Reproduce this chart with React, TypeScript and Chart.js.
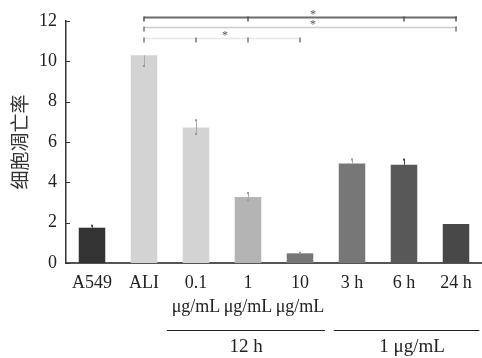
import React, { useEffect, useRef } from "react";
import { Chart, registerables } from "chart.js";

Chart.register(...registerables);

// ---- data ----
const categories: string[][] = [
  ["A549"],
  ["ALI"],
  ["0.1", "μg/mL"],
  ["1", "μg/mL"],
  ["10", "μg/mL"],
  ["3 h"],
  ["6 h"],
  ["24 h"],
];
const values = [1.75, 10.3, 6.72, 3.27, 0.48, 4.93, 4.87, 1.93];
const errHigh = [0.1, 0, 0.36, 0.2, 0.03, 0.2, 0.26, 0];
const errLow = [0, 0.53, 0.33, 0.15, 0, 0, 0, 0];
const barColors = ["#333333", "#d3d3d3", "#d3d3d3", "#b4b4b4", "#777777", "#777777", "#585858", "#484848"];
const yMin = 0;
const yMax = 12;
const yStep = 2;
const yTitle = "细胞凋亡率";
const groupLabels = ["12 h", "1 μg/mL"];
const groupFrom = [2, 5];
const groupTo = [4, 7];

// significance brackets
const sigLevel = [12.18, 11.68, 11.14];
const sigFrom = [1, 1, 1];
const sigTo = [7, 7, 4];
const sigTicks = [[1, 3, 6, 7], [1, 7], [1, 2, 3, 4]];
const sigStarAt = [4.25, 4.25, 2.56];
const sigColor = ["#6a6a6a", "#cccccc", "#e6e6e6"];

const SERIF = "'Liberation Serif', 'Times New Roman', 'Noto Sans CJK SC', serif";

const overlay = {
  id: "overlay",
  afterDraw(chart: any) {
    const { ctx } = chart;
    const x = chart.scales.x;
    const y = chart.scales.y;
    const step = x.getPixelForValue(1) - x.getPixelForValue(0);
    ctx.save();

    // inward y ticks
    ctx.strokeStyle = "#333";
    ctx.lineWidth = 1;
    for (let v = yMin; v <= yMax; v += yStep) {
      const py = Math.round(y.getPixelForValue(v)) + 0.5;
      ctx.beginPath();
      ctx.moveTo(x.left, py);
      ctx.lineTo(x.left + 4, py);
      ctx.stroke();
    }

    // error bars
    values.forEach((v, i) => {
      if (!errHigh[i] && !errLow[i]) return;
      const px = Math.round(x.getPixelForValue(i)) + 0.5;
      const top = y.getPixelForValue(v + errHigh[i]);
      const bot = y.getPixelForValue(v - errLow[i]);
      ctx.strokeStyle = i === 0 || i >= 6 ? "#444" : "#aaaaaa";
      ctx.lineWidth = 1;
      ctx.beginPath();
      ctx.moveTo(px, top);
      ctx.lineTo(px, bot);
      ctx.stroke();
      ctx.fillStyle = i === 0 || i >= 6 ? "#444" : "#999999";
      if (errHigh[i]) ctx.fillRect(px - 1.5, top - 1, 2, 2);
      if (errLow[i]) ctx.fillRect(px - 1.5, bot - 1, 2, 2);
    });

    // significance brackets
    sigLevel.forEach((lv, k) => {
      const py = Math.round(y.getPixelForValue(lv)) + 0.5;
      ctx.strokeStyle = sigColor[k];
      ctx.lineWidth = k === 0 ? 2 : 1.5;
      ctx.beginPath();
      ctx.moveTo(x.getPixelForValue(sigFrom[k]), py);
      ctx.lineTo(x.getPixelForValue(sigTo[k]) + 1, py);
      ctx.stroke();
      ctx.strokeStyle = k === 0 ? "#555" : "#777";
      ctx.lineWidth = 1.5;
      sigTicks[k].forEach((t) => {
        const tx = x.getPixelForValue(t);
        ctx.beginPath();
        ctx.moveTo(tx, py - 1);
        ctx.lineTo(tx, py + 4);
        ctx.stroke();
      });
      const sx = x.getPixelForValue(sigStarAt[k]);
      ctx.fillStyle = "#555";
      ctx.font = `12px ${SERIF}`;
      ctx.textAlign = "center";
      ctx.textBaseline = "alphabetic";
      ctx.fillText("*", sx, py);
    });

    // group brackets under x axis
    const lineY = x.bottom - 28;
    const textY = x.bottom - 11;
    groupLabels.forEach((lab, g) => {
      const l = g === 0 ? x.getPixelForValue(groupFrom[g]) - 0.56 * step : x.getPixelForValue(groupFrom[g]) - 0.35 * step;
      const r = g === 0 ? x.getPixelForValue(groupTo[g]) + 0.48 * step : x.getPixelForValue(groupTo[g]) + 0.45 * step;
      ctx.strokeStyle = "#222";
      ctx.lineWidth = 1;
      ctx.beginPath();
      ctx.moveTo(l, lineY + 0.5);
      ctx.lineTo(r, lineY + 0.5);
      ctx.stroke();
      ctx.fillStyle = "#222";
      ctx.font = `19px ${SERIF}`;
      ctx.textAlign = "center";
      ctx.textBaseline = "middle";
      const cx = g === 0 ? x.getPixelForValue(3) - 2 : x.getPixelForValue(6) + 8;
      ctx.fillText(lab, cx, textY);
    });

    ctx.restore();
  },
};

export default function App() {
  const ref = useRef<HTMLCanvasElement | null>(null);
  useEffect(() => {
    if (!ref.current) return;
    const chart = new Chart(ref.current, {
      type: "bar",
      data: {
        labels: categories as any,
        datasets: [
          {
            data: values,
            backgroundColor: barColors,
            borderWidth: 0,
            barPercentage: 0.51,
            categoryPercentage: 1,
          },
        ],
      },
      options: {
        animation: false,
        responsive: false,
        layout: { padding: { top: 21, right: 0, bottom: 0, left: 0 } },
        plugins: { legend: { display: false }, tooltip: { enabled: false } },
        scales: {
          x: {
            offset: true,
            grid: { display: false, drawTicks: false },
            border: { display: true, color: "#555", width: 2 },
            ticks: {
              color: "#222",
              padding: 8,
              maxRotation: 0,
              autoSkip: false,
              font: { family: SERIF, size: 18, lineHeight: 1.33 },
            },
            afterFit: (s: any) => {
              s.height = 95;
            },
          },
          y: {
            min: yMin,
            max: yMax,
            grid: { display: false, drawTicks: false },
            border: { display: true, color: "#333", width: 1.5 },
            ticks: {
              stepSize: yStep,
              color: "#222",
              padding: 9,
              font: { family: SERIF, size: 18 },
            },
            title: {
              display: true,
              text: yTitle,
              color: "#333",
              padding: { top: 11, bottom: 0 },
              font: { family: SERIF, size: 19 },
            },
            afterFit: (s: any) => {
              s.width = 66;
            },
          },
        },
      },
      plugins: [overlay],
    });
    return () => chart.destroy();
  }, []);
  return (
    <div style={{ position: "absolute", left: 0, top: 0, width: 482, height: 358 }}>
      <canvas ref={ref} width={482} height={358} />
    </div>
  );
}
